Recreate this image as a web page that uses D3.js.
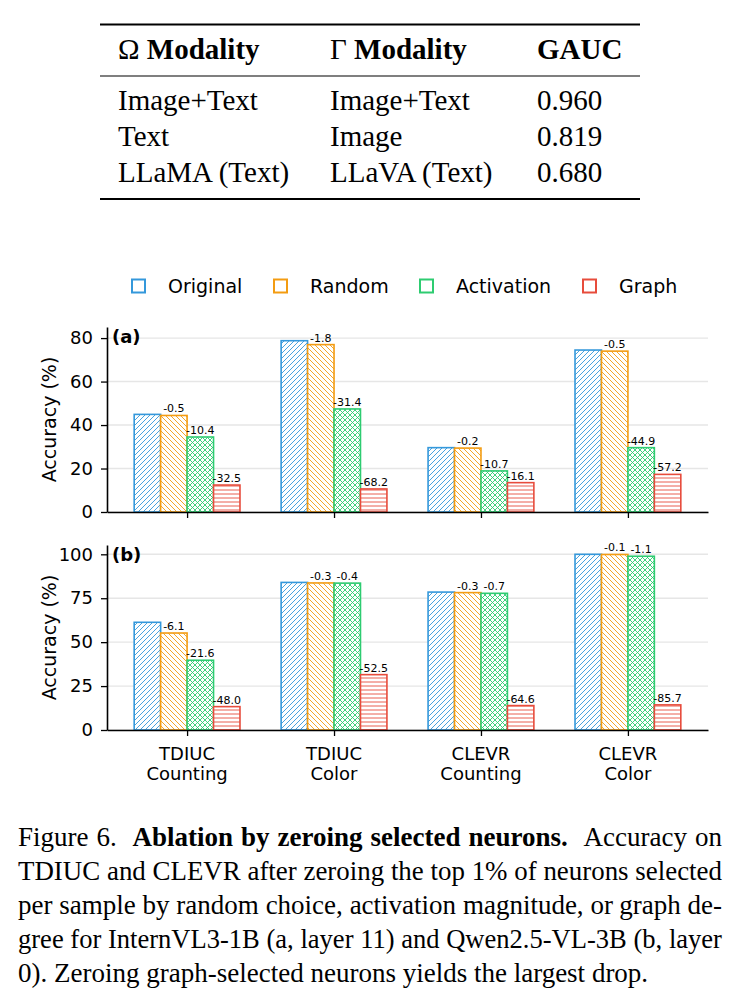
<!DOCTYPE html>
<html>
<head>
<meta charset="utf-8">
<script src="https://cdn.jsdelivr.net/npm/d3@7"></script>
<style>
  body { margin: 0; background: #fff; }
</style>
</head>
<body>
<div id="fig"></div>
<script>
// ---- table data
const tableHeader = [["Ω", " Modality"], ["Γ", " Modality"], ["", "GAUC"]];
const tableOmega = ["Image+Text", "Text", "LLaMA (Text)"];
const tableGamma = ["Image+Text", "Image", "LLaVA (Text)"];
const tableGauc = ["0.960", "0.819", "0.680"];

// ---- chart data
const categories = [["TDIUC", "Counting"], ["TDIUC", "Color"], ["CLEVR", "Counting"], ["CLEVR", "Color"]];
const methods = ["Original", "Random", "Activation", "Graph"];
const colors = ["#3498db", "#f39c12", "#2ecc71", "#e74c3c"];

// panel (a): InternVL3-1B, layer 11
const accA_original = [44.9, 78.8, 29.6, 74.5];
const accA_random = [44.4, 77.0, 29.4, 74.0];
const accA_activation = [34.5, 47.4, 18.9, 29.6];
const accA_graph = [12.4, 10.6, 13.5, 17.3];
const dropA_random = ["-0.5", "-1.8", "-0.2", "-0.5"];
const dropA_activation = ["-10.4", "-31.4", "-10.7", "-44.9"];
const dropA_graph = ["-32.5", "-68.2", "-16.1", "-57.2"];
const ticksA = [0, 20, 40, 60, 80];

// panel (b): Qwen2.5-VL-3B, layer 0
const accB_original = [61.3, 84.0, 78.5, 100.0];
const accB_random = [55.2, 83.7, 78.2, 99.9];
const accB_activation = [39.7, 83.6, 77.8, 98.9];
const accB_graph = [13.3, 31.5, 13.9, 14.3];
const dropB_random = ["-6.1", "-0.3", "-0.3", "-0.1"];
const dropB_activation = ["-21.6", "-0.4", "-0.7", "-1.1"];
const dropB_graph = ["-48.0", "-52.5", "-64.6", "-85.7"];
const ticksB = [0, 25, 50, 75, 100];

// ---- caption (each line: [text, bold]; "|" marks a wide gap)
const captionLines = [
    [["Figure 6.|", false], ["Ablation by zeroing selected neurons.|", true], ["Accuracy on", false]],
    [["TDIUC and CLEVR after zeroing the top 1% of neurons selected", false]],
    [["per sample by random choice, activation magnitude, or graph de-", false]],
    [["gree for InternVL3-1B (a, layer 11) and Qwen2.5-VL-3B (b, layer", false]],
    [["0). Zeroing graph-selected neurons yields the largest drop.", false]]
];

const sans = "'DejaVu Sans', sans-serif";
const serif = "'Liberation Serif', 'Times New Roman', serif";

const svg = d3.select("#fig").append("svg")
    .attr("width", 740)
    .attr("height", 1003);

// ---- hatch patterns
const defs = svg.append("defs");
const hatchPaths = [
    "M-1,1 l2,-2 M0,5 l5,-5 M4,6 l2,-2",
    "M-1,4 l2,2 M0,0 l5,5 M4,-1 l2,2",
    "M-1,1 l2,-2 M0,5 l5,-5 M4,6 l2,-2 M-1,4 l2,2 M0,0 l5,5 M4,-1 l2,2",
    "M0,2 H5"
];
const hatchH = [5, 5, 5, 4];
methods.forEach((m, j) => {
    let p = defs.append("pattern")
        .attr("id", "hatch" + j)
        .attr("patternUnits", "userSpaceOnUse")
        .attr("width", 5)
        .attr("height", hatchH[j]);
    p.append("rect").attr("width", 5).attr("height", hatchH[j]).attr("fill", "#fff");
    p.append("path").attr("d", hatchPaths[j])
        .attr("stroke", colors[j])
        .attr("stroke-width", 0.9)
        .attr("fill", "none");
});

// ---- table
const colX = [118, 330, 537];
const table = svg.append("g").attr("font-family", serif).attr("font-size", 29);
table.append("line").attr("x1", 100).attr("x2", 640).attr("y1", 24.5).attr("y2", 24.5)
    .attr("stroke", "#000").attr("stroke-width", 2);
table.append("line").attr("x1", 100).attr("x2", 640).attr("y1", 76).attr("y2", 76)
    .attr("stroke", "#000").attr("stroke-width", 1.2);
table.append("line").attr("x1", 100).attr("x2", 640).attr("y1", 199).attr("y2", 199)
    .attr("stroke", "#000").attr("stroke-width", 2);
tableHeader.forEach((h, i) => {
    let t = table.append("text").attr("x", colX[i]).attr("y", 59);
    if (h[0]) t.append("tspan").text(h[0]);
    t.append("tspan").attr("font-weight", "bold").text(h[1]);
});
[tableOmega, tableGamma, tableGauc].forEach((col, i) => {
    col.forEach((v, r) => {
        table.append("text").attr("x", colX[i]).attr("y", 110 + r * 36).text(v);
    });
});

// ---- legend
const legendHandleX = [132, 274, 420, 583];
const legend = svg.append("g").attr("font-family", sans).attr("font-size", 19);
methods.forEach((m, j) => {
    legend.append("rect")
        .attr("x", legendHandleX[j]).attr("y", 279.5)
        .attr("width", 13).attr("height", 13)
        .attr("fill", "#fff").attr("stroke", colors[j]).attr("stroke-width", 2);
    legend.append("text")
        .attr("x", legendHandleX[j] + 36).attr("y", 293)
        .text(m);
});

// ---- panels
const x = d3.scaleLinear().domain([-0.545, 3.545]).range([107, 708]);
const barW = 0.18;

function drawPanel(cfg) {
    let y = d3.scaleLinear().domain([0, cfg.yMax]).range([cfg.bottom, cfg.top]);
    let g = svg.append("g");

    // grid
    g.selectAll(".grid").data(cfg.ticks).enter().append("line")
        .attr("x1", 107).attr("x2", 708)
        .attr("y1", d => y(d)).attr("y2", d => y(d))
        .attr("stroke", "#e6e6e6").attr("stroke-width", 1.4);

    // bars
    cfg.series.forEach((vals, j) => {
        g.selectAll(".bar" + j).data(vals).enter().append("rect")
            .attr("x", (d, i) => x(i + (j - 1.5) * barW - barW / 2))
            .attr("width", x(barW) - x(0))
            .attr("y", d => y(d))
            .attr("height", d => y(0) - y(d))
            .attr("fill", "url(#hatch" + j + ")")
            .attr("stroke", colors[j])
            .attr("stroke-width", 1.6);
    });

    // drop labels
    cfg.drops.forEach((labels, k) => {
        let j = k + 1;
        g.selectAll(".lab" + j).data(labels).enter().append("text")
            .attr("x", (d, i) => x(i + (j - 1.5) * barW))
            .attr("y", (d, i) => y(cfg.series[j][i]) - 3)
            .attr("text-anchor", "middle")
            .attr("font-family", sans)
            .attr("font-size", 11)
            .text(d => d);
    });

    // axes
    let yAxis = g.append("g")
        .attr("transform", "translate(107,0)")
        .call(d3.axisLeft(y).tickValues(cfg.ticks).tickSize(6).tickSizeOuter(0).tickPadding(8));
    let xAxis = g.append("g")
        .attr("transform", `translate(0,${cfg.bottom})`)
        .call(d3.axisBottom(x).tickValues([0, 1, 2, 3]).tickSize(6).tickSizeOuter(0).tickFormat(""));
    [yAxis, xAxis].forEach(a => {
        a.select(".domain").attr("stroke-width", 1.6);
        a.selectAll(".tick line").attr("stroke-width", 1.3);
        a.selectAll("text").attr("font-family", sans).attr("font-size", 18).attr("fill", "#000");
    });

    if (cfg.showCats) {
        categories.forEach((c, i) => {
            let t = g.append("text")
                .attr("text-anchor", "middle")
                .attr("font-family", sans).attr("font-size", 18);
            c.forEach((line, l) => {
                t.append("tspan").attr("x", x(i)).attr("y", cfg.bottom + 30 + l * 20).text(line);
            });
        });
    }

    // y label
    g.append("text")
        .attr("transform", `translate(56,${(cfg.top + cfg.bottom) / 2}) rotate(-90)`)
        .attr("text-anchor", "middle")
        .attr("font-family", sans).attr("font-size", 19)
        .text("Accuracy (%)");

    // panel tag
    g.append("text")
        .attr("x", 112).attr("y", cfg.top + 16)
        .attr("font-family", sans).attr("font-size", 18).attr("font-weight", "bold")
        .text(cfg.tag);
}

drawPanel({
    tag: "(a)", top: 327, bottom: 512, yMax: 85.1, ticks: ticksA, showCats: false,
    series: [accA_original, accA_random, accA_activation, accA_graph],
    drops: [dropA_random, dropA_activation, dropA_graph]
});
drawPanel({
    tag: "(b)", top: 545, bottom: 730, yMax: 105.3, ticks: ticksB, showCats: true,
    series: [accB_original, accB_random, accB_activation, accB_graph],
    drops: [dropB_random, dropB_activation, dropB_graph]
});

// ---- caption, justified word by word
const capLeft = 18, capWidth = 704, capSize = 27, capFirst = 846, capStep = 34;
const cap = svg.append("g").attr("font-family", serif).attr("font-size", capSize);
captionLines.forEach((segs, li) => {
    let words = [];
    segs.forEach(([s, bold]) => {
        s.split(" ").forEach(w => {
            let wide = w.endsWith("|");
            words.push({ w: wide ? w.slice(0, -1) : w, bold: bold, wide: wide });
        });
    });
    let t = cap.append("text");
    let spans = words.map(d => t.append("tspan")
        .attr("font-weight", d.bold ? "bold" : null)
        .text(d.w));
    let widths = spans.map(s => s.node().getComputedTextLength());
    let sum = d3.sum(widths);
    let weights = words.slice(0, -1).map(d => d.wide ? 2 : 1);
    let wsum = d3.sum(weights);
    let space = capSize * 0.25;
    let natural = sum + space * wsum;
    let justify = li < captionLines.length - 1;
    let scale = natural > capWidth ? capWidth / natural : 1;
    let gap = justify && natural < capWidth ? (capWidth - sum) / wsum : space;
    let cx = 0;
    spans.forEach((s, k) => {
        s.attr("x", cx);
        cx += widths[k] + (k < weights.length ? gap * weights[k] : 0);
    });
    t.attr("transform", `translate(${capLeft},${capFirst + li * capStep}) scale(${scale},1)`);
});
</script>
</body>
</html>
